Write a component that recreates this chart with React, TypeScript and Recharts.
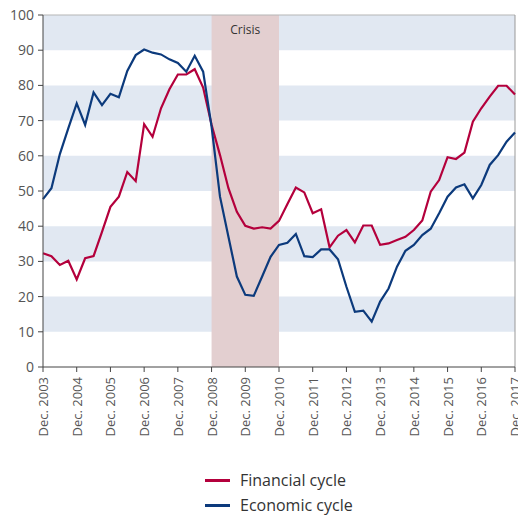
import {
  Legend,
  Line,
  LineChart,
  ReferenceArea,
  ReferenceLine,
  XAxis,
  YAxis,
} from "recharts";

// Quarterly readings, Dec. 2003 .. Dec. 2017 (57 quarters)
const tickYears = [
  2003, 2004, 2005, 2006, 2007, 2008, 2009, 2010, 2011, 2012, 2013, 2014,
  2015, 2016, 2017,
];

const financialCycle = [
  32.3, 31.5, 29.0, 30.2, 24.9, 30.9, 31.5, 38.4, 45.5, 48.4, 55.4, 52.8,
  69.0, 65.4, 73.5, 78.9, 83.1, 83.1, 84.6, 79.4, 68.8, 60.2, 50.8, 44.1,
  40.1, 39.3, 39.7, 39.3, 41.5, 46.3, 51.0, 49.6, 43.7, 44.8, 34.0, 37.3,
  38.9, 35.4, 40.2, 40.2, 34.7, 35.1, 36.1, 37.0, 38.9, 41.6, 49.8, 53.1,
  59.6, 59.1, 60.9, 69.7, 73.5, 76.8, 79.9, 79.9, 77.4,
];

const economicCycle = [
  47.7, 50.8, 60.5, 67.8, 74.9, 68.8, 78.0, 74.4, 77.6, 76.6, 84.1, 88.6,
  90.2, 89.3, 88.8, 87.4, 86.4, 83.9, 88.4, 83.9, 68.3, 48.4, 37.0, 25.7,
  20.5, 20.2, 25.7, 31.3, 34.7, 35.3, 37.8, 31.5, 31.2, 33.4, 33.4, 30.6,
  22.8, 15.7, 16.0, 12.9, 18.6, 22.3, 28.5, 33.0, 34.7, 37.5, 39.3, 43.7,
  48.4, 51.0, 51.9, 47.9, 51.7, 57.4, 60.2, 64.0, 66.6,
];

const yTicks = [0, 10, 20, 30, 40, 50, 60, 70, 80, 90, 100];
const stripes = [
  [10, 20],
  [30, 40],
  [50, 60],
  [70, 80],
  [90, 100],
];
// crisis window, in quarter index (Dec. 2008 .. Dec. 2010)
const crisisFrom = 20;
const crisisTo = 28;

const RED = "#b4003c";
const BLUE = "#0c3a7c";
const FONT = "'Open Sans', sans-serif";

const rows = financialCycle.map((v, i) => ({
  q: i,
  financial: v,
  economic: economicCycle[i],
}));

function XTick({ x, y, payload }: any) {
  const year = tickYears[Math.round(payload.value / 4)];
  return (
    <text
      x={x}
      y={y}
      transform={`rotate(-90, ${x}, ${y})`}
      textAnchor="end"
      dominantBaseline="central"
      fontSize={13}
      fill="#555"
      fontFamily={FONT}
    >
      {`Dec. ${year}`}
    </text>
  );
}

function LegendBox() {
  const items = [
    { name: "Financial cycle", color: RED },
    { name: "Economic cycle", color: BLUE },
  ];
  return (
    <div style={{ position: "relative", height: 60, fontFamily: FONT }}>
      {items.map((it, i) => (
        <div
          key={it.name}
          style={{
            position: "absolute",
            left: 205,
            top: 10 + i * 25,
            height: 24,
            display: "flex",
            alignItems: "center",
          }}
        >
          <span
            style={{
              width: 25,
              height: 3,
              background: it.color,
              display: "inline-block",
              marginRight: 10,
            }}
          />
          <span style={{ fontSize: 16, color: "#333" }}>{it.name}</span>
        </div>
      ))}
    </div>
  );
}

export default function App() {
  return (
    <div style={{ position: "absolute", left: 0, top: 0, width: 518, height: 518, background: "#fff" }}>
      <LineChart
        width={518}
        height={518}
        data={rows}
        margin={{ top: 15, right: 3, left: 0, bottom: 0 }}
      >
        {stripes.map(([a, b]) => (
          <ReferenceArea
            key={a}
            y1={a}
            y2={b}
            fill="#e1e8f2"
            fillOpacity={1}
            stroke="none"
          />
        ))}
        <ReferenceArea
          x1={crisisFrom}
          x2={crisisTo}
          fill="#e3cfd0"
          fillOpacity={1}
          stroke="none"
          label={{
            value: "Crisis",
            position: "insideTop",
            offset: 10,
            fontSize: 12,
            fill: "#333",
            fontFamily: FONT,
          }}
        />
        <ReferenceLine y={100} stroke="#b5b5b5" strokeWidth={1} />
        <ReferenceLine x={56} stroke="#999" strokeWidth={1} />
        <XAxis
          dataKey="q"
          type="number"
          domain={[0, 56]}
          ticks={tickYears.map((_, i) => i * 4)}
          interval={0}
          height={91}
          stroke="#444"
          tickSize={5}
          tickMargin={5}
          tick={<XTick />}
        />
        <YAxis
          domain={[0, 100]}
          ticks={yTicks}
          interval={0}
          width={43}
          stroke="#444"
          tickSize={5}
          tickMargin={4}
          tick={{ fontSize: 14, fill: "#555", fontFamily: FONT }}
        />
        <Line
          dataKey="financial"
          name="Financial cycle"
          stroke={RED}
          strokeWidth={2.2}
          dot={false}
          isAnimationActive={false}
        />
        <Line
          dataKey="economic"
          name="Economic cycle"
          stroke={BLUE}
          strokeWidth={2.2}
          dot={false}
          isAnimationActive={false}
        />
        <Legend verticalAlign="bottom" content={<LegendBox />} />
      </LineChart>
    </div>
  );
}
